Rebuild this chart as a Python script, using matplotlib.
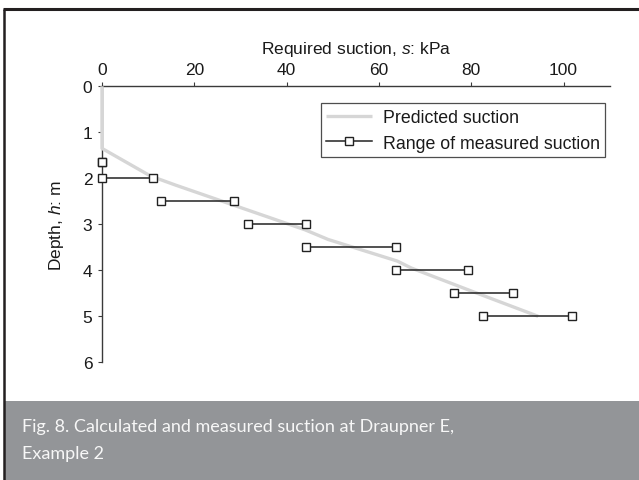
import matplotlib
matplotlib.use("Agg")
import matplotlib.pyplot as plt
from matplotlib.lines import Line2D
from matplotlib.patches import Rectangle

plt.rcParams["font.family"] = "Liberation Sans"
plt.rcParams["mathtext.fontset"] = "custom"
plt.rcParams["mathtext.it"] = "Liberation Sans:italic"
plt.rcParams["mathtext.rm"] = "Liberation Sans"

## predicted suction profile (kPa vs depth m)
pred_suction = [0, 0, 10.5, 16, 31, 44, 49, 64, 67, 80, 94.5]
pred_depth = [0, 1.35, 1.95, 2.15, 2.67, 3.12, 3.33, 3.8, 3.95, 4.45, 5.0]

## measured suction range at each depth
meas_depth = [1.65, 2.0, 2.5, 3.0, 3.5, 4.0, 4.5, 5.0]
meas_min = [0, 0, 12.8, 31.7, 44.3, 63.6, 76.2, 82.5]
meas_max = [0, 11.1, 28.6, 44.3, 63.6, 79.4, 89.0, 101.8]

x_ticks = [0, 20, 40, 60, 80, 100]
y_ticks = [0, 1, 2, 3, 4, 5, 6]

caption_lines = ["Fig. 8. Calculated and measured suction at Draupner E,", "Example 2"]

dark = "#231f20"
axis_col = "#3a3a3a"

fig = plt.figure(figsize=(6.39, 4.81), dpi=100)
fig.patch.set_facecolor("white")

### frame and caption band
W, H = 639.0, 481.0
fig.add_artist(Rectangle((5 / W, 0), 1, 79 / H, transform=fig.transFigure,
                         facecolor="#939598", edgecolor="none"))
fig.add_artist(Line2D([4 / W, 4 / W], [0, 1 - 10 / H], transform=fig.transFigure,
                      color=dark, lw=1.8, solid_capstyle="butt"))
fig.add_artist(Line2D([3 / W, 1], [1 - 10 / H, 1 - 10 / H], transform=fig.transFigure,
                      color=dark, lw=2.2, solid_capstyle="butt"))
for i, line in enumerate(caption_lines):
    fig.text(22 / W, 1 - (432 + 27 * i) / H, line, color="#f7f7f7", fontsize=13,
             family="Lato", va="baseline", ha="left")

### chart
ax = fig.add_axes([102 / W, 1 - 363.3 / H, 507.7 / W, 276 / H])
ax.set_xlim(0, 110)
ax.set_ylim(6, 0)

ax.plot(pred_suction, pred_depth, color="#d6d6d6", lw=2.4, zorder=3,
        clip_on=False, solid_capstyle="butt", label="Predicted suction")
for i, d in enumerate(meas_depth):
    ax.plot([meas_min[i], meas_max[i]], [d, d], color="#222222", lw=1.1,
            marker="s", markersize=6.3, markerfacecolor="white",
            markeredgecolor="#222222", markeredgewidth=1.0, zorder=4,
            clip_on=False, label="Range of measured suction" if i == 0 else None)

ax.xaxis.tick_top()
ax.xaxis.set_label_position("top")
ax.set_xticks(x_ticks)
ax.set_yticks(y_ticks)
for s in ["right", "bottom"]:
    ax.spines[s].set_visible(False)
for s in ["top", "left"]:
    ax.spines[s].set_color(axis_col)
    ax.spines[s].set_linewidth(1.0)
ax.tick_params(direction="out", length=3, width=0.8, color=axis_col,
               labelsize=12.5, labelcolor="#1a1a1a", pad=4)
ax.set_xlabel(r"Required suction, $\it{s}$: kPa", fontsize=12.5, color="#1a1a1a",
              labelpad=6)
ax.set_ylabel(r"Depth, $\it{h}$: m", fontsize=12.5, color="#1a1a1a", labelpad=12)

leg = ax.legend(loc="upper right", bbox_to_anchor=(0.991, 0.938), borderaxespad=0,
                fontsize=12.8, frameon=True, fancybox=False, handlelength=2.6,
                handletextpad=0.6, borderpad=0.3, labelspacing=0.5, numpoints=1)
leg.get_frame().set_edgecolor("#222222")
leg.get_frame().set_linewidth(0.9)
for t in leg.get_texts():
    t.set_color("#1a1a1a")

fig.savefig("out.png", dpi=100)
